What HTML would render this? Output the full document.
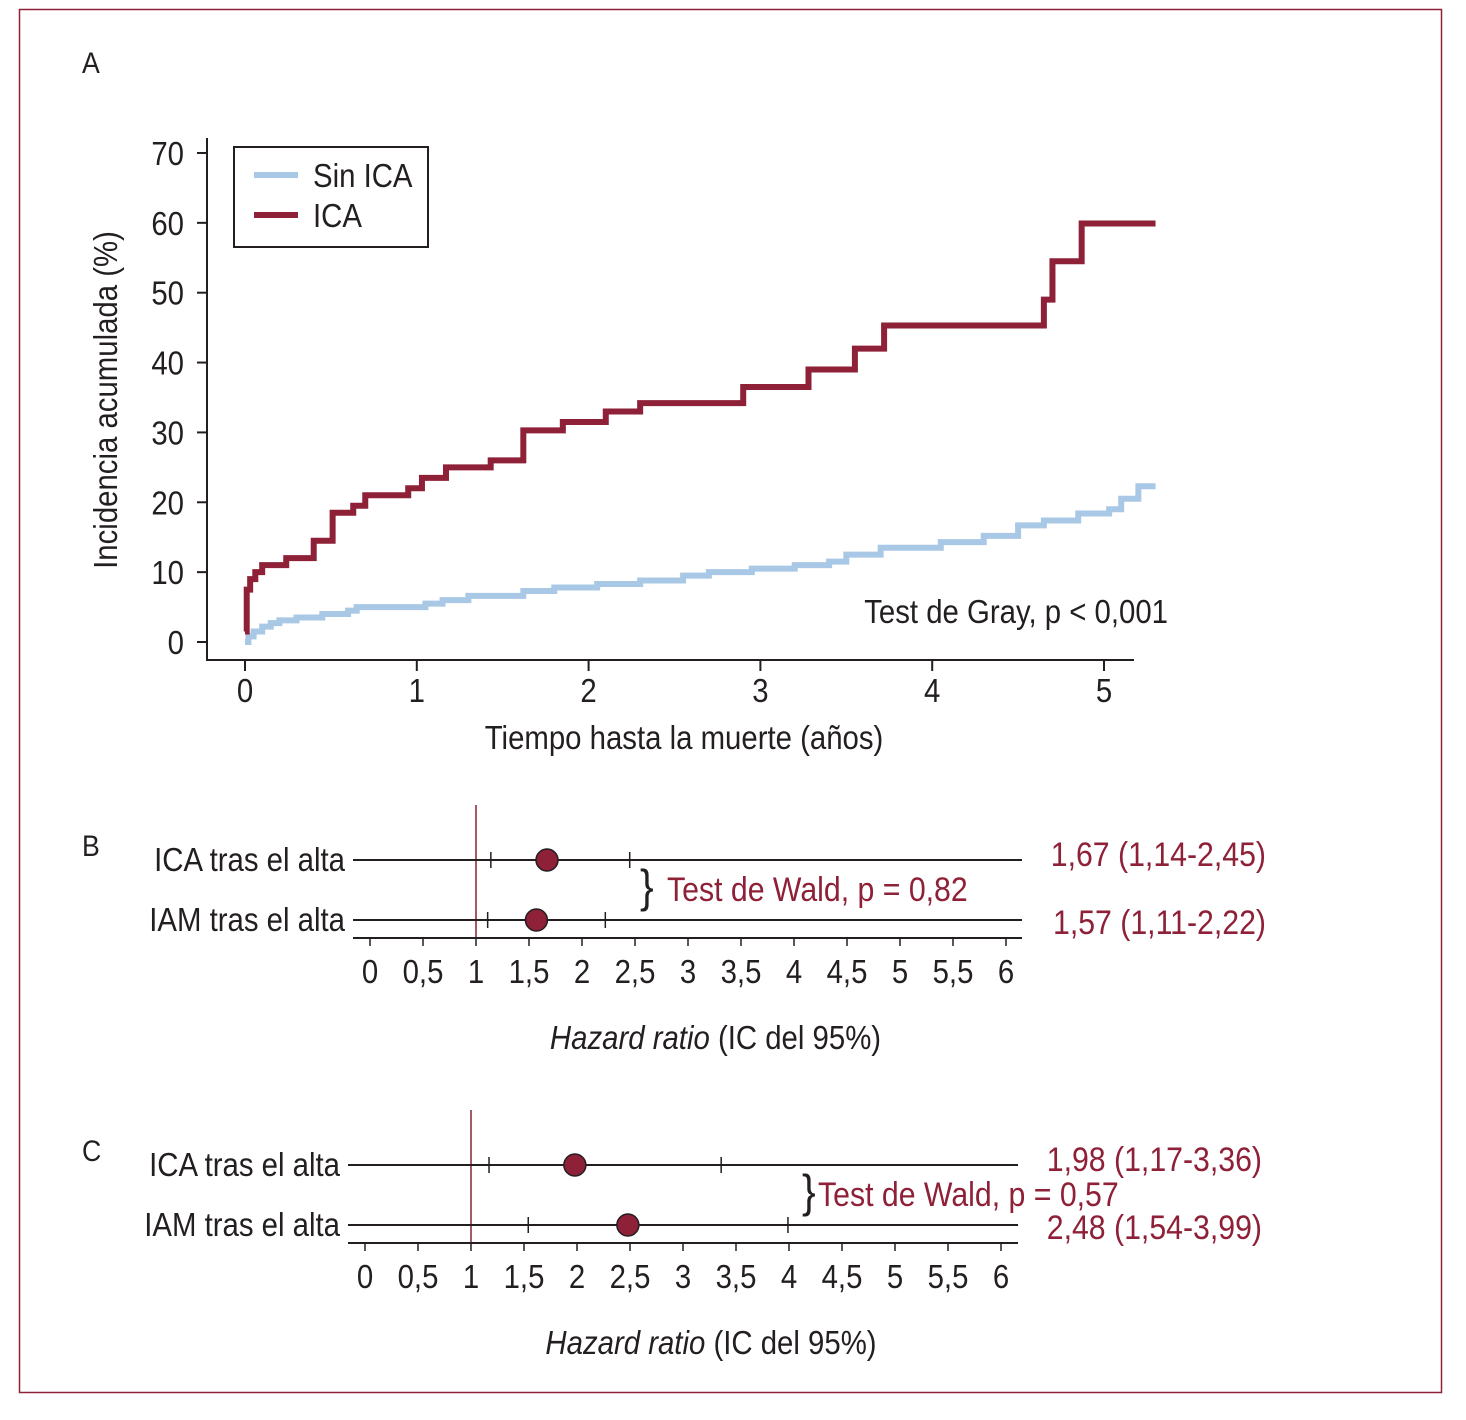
<!DOCTYPE html>
<html><head><meta charset="utf-8"><style>
html,body{margin:0;padding:0;background:#fff}
svg{display:block}
text{font-family:"Liberation Sans Narrow","Liberation Sans",sans-serif;fill:#231f20}
.red{fill:#8e2037}
</style></head><body>
<svg id="fig" width="1466" height="1420" viewBox="0 0 1466 1420">
<rect x="19.5" y="9.5" width="1422" height="1383" fill="none" stroke="#8e2037" stroke-width="1.5"/>
<g id="km"></g>
<g id="fb"></g>
<g id="fc"></g>
</svg>
<script>
const kmYears=[0,1,2,3,4,5];
const kmYTicks=[0,10,20,30,40,50,60,70];
const icaT=[0,0.01,0.03,0.06,0.1,0.24,0.4,0.51,0.63,0.7,0.95,1.03,1.17,1.43,1.62,1.85,2.1,2.3,2.9,3.28,3.55,3.72,4.65,4.7,4.87,5.3];
const icaV=[1.5,7.5,9,10,11,12,14.5,18.5,19.5,21,22,23.5,25,26,30.3,31.5,33,34.2,36.5,39,42,45.3,49,54.5,59.9,59.9];
const sinT=[0,0.02,0.05,0.1,0.15,0.2,0.3,0.45,0.6,0.65,1.05,1.15,1.3,1.62,1.8,2.05,2.3,2.55,2.7,2.95,3.2,3.4,3.5,3.7,4.05,4.3,4.5,4.65,4.85,5.03,5.1,5.2,5.3];
const sinV=[0,0.8,1.5,2.2,2.7,3.1,3.5,4,4.5,5,5.5,6,6.6,7.3,7.8,8.3,8.8,9.5,10,10.5,11,11.5,12.5,13.5,14.3,15.2,16.7,17.4,18.4,19,20.5,22.3,22.3];
const hrTicks=[0,0.5,1,1.5,2,2.5,3,3.5,4,4.5,5,5.5,6];
const hrTickLabels=["0","0,5","1","1,5","2","2,5","3","3,5","4","4,5","5","5,5","6"];
const rowLabels=["ICA tras el alta","IAM tras el alta"];
const bHR=[1.67,1.57], bLo=[1.14,1.11], bHi=[2.45,2.22];
const cHR=[1.98,2.48], cLo=[1.17,1.54], cHi=[3.36,3.99];
const bText=["1,67 (1,14-2,45)","1,57 (1,11-2,22)"];
const cText=["1,98 (1,17-3,36)","2,48 (1,54-3,99)"];
const NS="http://www.w3.org/2000/svg";
function mk(p,tag,at,txt){const e=document.createElementNS(NS,tag);for(const k in at)e.setAttribute(k,at[k]);if(txt!==undefined)e.textContent=txt;p.appendChild(e);return e;}
const RED="#8e2037",BLUE="#a8c8e6",INK="#231f20";
const km=document.getElementById('km');
const X=t=>245+t*171.8, Y=v=>642-v*6.986;
let e;
e=mk(km,'text',{x:82,y:73,'font-size':30},'A');


e=mk(km,'path',{d:'M207,138 V660 H1134',fill:'none',stroke:INK,'stroke-width':2});


kmYTicks.forEach(v=>{
 e=mk(km,'line',{x1:197,x2:207,y1:Y(v),y2:Y(v),stroke:INK,'stroke-width':2});
 
 
 e=mk(km,'text',{x:184,y:Y(v)+12,'font-size':33,'text-anchor':'end'},String(v));
 
 
});
kmYears.forEach(t=>{
 e=mk(km,'line',{x1:X(t),x2:X(t),y1:660,y2:671,stroke:INK,'stroke-width':2});
 
 
 e=mk(km,'text',{x:X(t),y:702,'font-size':33,'text-anchor':'middle'},String(t));
 
 
});
e=mk(km,'text',{x:684,y:749,'font-size':33,'text-anchor':'middle'},'Tiempo hasta la muerte (años)');


e=mk(km,'text',{'font-size':33,'text-anchor':'middle',transform:'translate(117,400) rotate(-90)'},'Incidencia acumulada (%)');


function stepPath(T,V){let d='M'+X(T[0])+','+Y(V[0]);for(let i=1;i<T.length;i++){d+=' H'+X(T[i])+' V'+Y(V[i]);}return d;}
e=mk(km,'path',{d:stepPath(sinT,sinV),fill:'none',stroke:BLUE,'stroke-width':6});


e=mk(km,'path',{d:stepPath(icaT,icaV),fill:'none',stroke:RED,'stroke-width':6});


e=mk(km,'rect',{x:234,y:147,width:194,height:100,fill:'#fff',stroke:INK,'stroke-width':2});


e=mk(km,'line',{x1:254,x2:298,y1:175,y2:175,stroke:BLUE,'stroke-width':6});


e=mk(km,'text',{x:313,y:187,'font-size':33},'Sin ICA');


e=mk(km,'line',{x1:254,x2:298,y1:215,y2:215,stroke:RED,'stroke-width':6});


e=mk(km,'text',{x:313,y:227,'font-size':33},'ICA');


e=mk(km,'text',{x:1168,y:623,'font-size':33,'text-anchor':'end'},'Test de Gray, p < 0,001');


function forest(g,o){
 const F=v=>o.x0+v*106;
 e=mk(g,'text',{x:82,y:o.rows[0]-4,'font-size':30},o.label);
 
 
 e=mk(g,'line',{x1:F(1),x2:F(1),y1:o.rows[0]-55,y2:o.axY,stroke:RED,'stroke-width':1.5});
 
 
 e=mk(g,'line',{x1:o.l,x2:o.r,y1:o.axY,y2:o.axY,stroke:INK,'stroke-width':2});
 
 
 hrTicks.forEach((v,i)=>{
  e=mk(g,'line',{x1:F(v),x2:F(v),y1:o.axY,y2:o.axY+8,stroke:INK,'stroke-width':1.5});
  
  
  e=mk(g,'text',{x:F(v),y:o.axY+45,'font-size':33,'text-anchor':'middle'},hrTickLabels[i]);
  
  
 });
 const t=mk(g,'text',{x:(o.l+o.r)/2+28,y:o.axY+111,'font-size':33,'text-anchor':'middle'});
 
 
 mk(t,'tspan',{'font-style':'italic'},'Hazard ratio');
 mk(t,'tspan',{},' (IC del 95%)');
 o.rows.forEach((y,i)=>{
  e=mk(g,'text',{x:o.l-8,y:y+11,'font-size':33,'text-anchor':'end'},rowLabels[i]);
  
  
  e=mk(g,'line',{x1:o.l,x2:o.r,y1:y,y2:y,stroke:INK,'stroke-width':2});
  
  
  [o.lo[i],o.hi[i]].forEach(v=>{
   e=mk(g,'line',{x1:F(v),x2:F(v),y1:y-8,y2:y+8,stroke:INK,'stroke-width':1.5});
   
   
  });
  e=mk(g,'circle',{cx:F(o.hr[i]),cy:y,r:11,fill:RED,stroke:INK,'stroke-width':1.5});
  
  
  e=mk(g,'text',{x:o.tx,y:y+o.dy[i],'font-size':34,'text-anchor':'end',class:'red'},o.txt[i]);
  
  
 });
 e=mk(g,'text',{x:o.bx,y:(o.rows[0]+o.rows[1])/2+12,'font-size':46},'}');
 
 
 e=mk(g,'text',{x:o.wx,y:(o.rows[0]+o.rows[1])/2+11,'font-size':34,class:'red'},o.wald);
 
 
}
forest(document.getElementById('fb'),{label:'B',x0:370,rows:[860,920],axY:938,l:353,r:1022,lo:bLo,hi:bHi,hr:bHR,txt:bText,tx:1266,dy:[6,14],bx:640,wx:667,wald:'Test de Wald, p = 0,82'});
forest(document.getElementById('fc'),{label:'C',x0:365,rows:[1165,1225],axY:1243,l:348,r:1018,lo:cLo,hi:cHi,hr:cHR,txt:cText,tx:1262,dy:[6,14],bx:802,wx:818,wald:'Test de Wald, p = 0,57'});
document.querySelectorAll('#fig text').forEach(t=>{
 const tr=t.getAttribute('transform');
 if(tr){t.setAttribute('transform',tr+' scale(0.89,1)');}
 else{const x=t.getAttribute('x')||0,y=t.getAttribute('y')||0;t.removeAttribute('x');t.removeAttribute('y');t.setAttribute('transform','translate('+x+','+y+') scale(0.89,1)');}
});
</script>
</body></html>
